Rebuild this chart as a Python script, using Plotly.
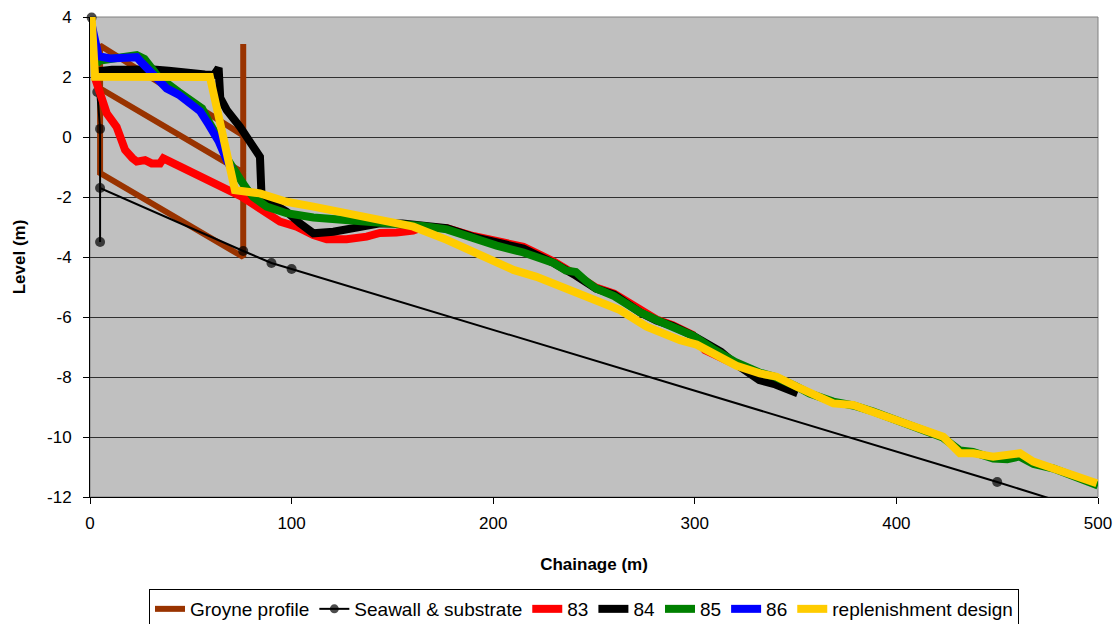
import plotly.graph_objects as go

# ---- data ----
groyne_x = [76, 76, 5, 5, 76, 76, 5.5]
groyne_y = [3.1, -4.0, -1.2, 3.05, 0.05, -1.19, 1.6]

seawall_x = [0.8, 3.6, 5, 5, 5, 76, 90, 100, 450, 500]
seawall_y = [3.98, 1.5, 0.27, -3.5, -1.7, -3.8, -4.2, -4.4, -11.5, -12.55]

s83_x = [2.5, 4, 5.5, 8.3, 13.2, 17.4, 21, 23.2, 27.3, 30.6, 34.7, 36.4, 39.7, 50, 60, 71, 75, 80,
         87.6, 94.2, 102.5, 110.8, 117.4, 127.3, 137.2, 143.8, 152, 160.3, 165, 177, 190, 201.7, 215,
         223, 230, 241, 251, 260, 273, 281, 289, 299, 305, 320, 335, 348]
s83_y = [1.97, 1.6, 1.3, 0.79, 0.34, -0.43, -0.7, -0.82, -0.77, -0.88, -0.88, -0.71, -0.82, -1.15, -1.47,
         -1.82, -1.98, -2.2, -2.54, -2.82, -2.99, -3.27, -3.41, -3.41, -3.32, -3.2, -3.18, -3.12, -3.0,
         -3.04, -3.3, -3.45, -3.66, -3.92, -4.15, -4.6, -5.02, -5.22, -5.8, -6.08, -6.27, -6.6, -7.1,
         -7.6, -8.05, -8.42]

s84_x = [4.3, 10.9, 20, 30, 39, 48, 57, 61.5, 63.8, 64.6, 67.8, 74.4, 80, 84.3, 85.1, 90.9, 97.5,
         104.2, 110.8, 120.7, 130.6, 143.8, 155, 165, 170.3, 177, 190, 201.7, 215, 223, 230, 241, 251,
         260, 273, 281, 289, 299, 313, 320, 332, 340, 351]
s84_y = [2.19, 2.24, 2.24, 2.26, 2.21, 2.12, 2.08, 2.07, 2.3, 1.3, 0.9, 0.34, -0.2, -0.66, -1.99, -2.21,
         -2.49, -2.88, -3.21, -3.16, -3.04, -2.88, -2.88, -2.95, -2.93, -3.04, -3.33, -3.5, -3.72, -3.98,
         -4.2, -4.62, -5.05, -5.25, -5.85, -6.12, -6.3, -6.62, -7.16, -7.55, -8.1, -8.25, -8.54]

s85_x = [3.3, 5, 10, 18, 23.2, 27, 34, 44, 50.6, 55.6, 59, 63.8, 67.8, 71, 74.4, 78, 81, 87.6, 97.5,
         110.8, 127.3, 143.8, 155, 165, 177, 190, 201.7, 215, 223, 230, 236, 241, 246, 251, 260, 273,
         281, 289, 299, 310, 320, 332, 340, 350, 357, 368.7, 378.6, 388.5, 395, 405, 418, 423, 431.5,
         438, 448, 455, 461, 468, 478, 488, 493, 500]
s85_y = [2.45, 2.55, 2.6, 2.65, 2.73, 2.6, 2.0, 1.5, 1.15, 0.95, 0.5, -0.05, -0.7, -1.1, -1.4, -1.75,
         -2.0, -2.32, -2.54, -2.68, -2.77, -2.82, -2.9, -2.97, -3.08, -3.4, -3.62, -3.85, -4.02, -4.2,
         -4.45, -4.5, -4.8, -5.05, -5.3, -5.85, -6.1, -6.3, -6.62, -7.1, -7.5, -7.85, -8.0, -8.3, -8.55,
         -8.82, -8.95, -9.15, -9.32, -9.6, -9.88, -10.02, -10.45, -10.5, -10.72, -10.74, -10.65, -10.9,
         -11.05, -11.3, -11.45, -11.62]

s86_x = [0, 4.3, 10, 20.8, 23.2, 25.8, 30, 34, 38, 44, 50.6, 54.6, 58.9, 63.8, 67.8, 70]
s86_y = [4, 2.69, 2.62, 2.63, 2.66, 2.47, 2.2, 1.86, 1.62, 1.41, 1.08, 0.86, 0.41, -0.14, -0.77, -1.05]

design_x = [0.8, 2.5, 59.5, 71.9, 84.3, 97.5, 110.8, 127.3, 143.8, 160.4, 177, 193.5, 210, 221.5, 233.1,
            249.6, 262.9, 276.1, 292.7, 300.9, 309.2, 320.7, 332.3, 340.6, 350.5, 357.1, 368.7, 378.6,
            388.5, 395.1, 405, 418.2, 423.2, 431.5, 438.1, 448, 454.7, 461.3, 467.9, 477.8, 487.8,
            492.8, 499.4]
design_y = [4, 2.01, 2.0, -1.77, -1.88, -2.16, -2.32, -2.54, -2.74, -2.99, -3.43, -3.93, -4.43, -4.66,
            -4.99, -5.43, -5.77, -6.32, -6.77, -6.92, -7.21, -7.63, -7.88, -7.99, -8.32, -8.54, -8.88,
            -8.93, -9.16, -9.32, -9.6, -9.88, -9.99, -10.54, -10.54, -10.66, -10.6, -10.54, -10.82,
            -11.04, -11.27, -11.43, -11.54]

x_ticks = [0, 100, 200, 300, 400, 500]
y_ticks = [4, 2, 0, -2, -4, -6, -8, -10, -12]
y_tick_text = ["4", "2", "0", "-2", "-4", "-6", "-8", "-10", "-12"]

FONT = "Liberation Sans, Arial, sans-serif"

fig = go.Figure()
fig.add_trace(go.Scatter(x=groyne_x, y=groyne_y, mode="lines", name="Groyne profile",
                         line=dict(color="#993300", width=6)))
sizes = [10] * (len(seawall_x) - 1) + [0]
fig.add_trace(go.Scatter(x=seawall_x, y=seawall_y, mode="lines+markers", name="Seawall & substrate",
                         line=dict(color="#000000", width=2),
                         marker=dict(color="#000000", size=sizes, line=dict(width=0)),
                         cliponaxis=False))
fig.add_trace(go.Scatter(x=s83_x, y=s83_y, mode="lines", name="83", line=dict(color="#FF0000", width=8)))
fig.add_trace(go.Scatter(x=s84_x, y=s84_y, mode="lines", name="84", line=dict(color="#000000", width=8)))
fig.add_trace(go.Scatter(x=s85_x, y=s85_y, mode="lines", name="85", line=dict(color="#008000", width=8)))
fig.add_trace(go.Scatter(x=s86_x, y=s86_y, mode="lines", name="86", line=dict(color="#0000FF", width=8)))
fig.add_trace(go.Scatter(x=design_x, y=design_y, mode="lines", name="replenishment design",
                         line=dict(color="#FFCC00", width=8)))

fig.update_layout(
    width=1119, height=624,
    margin=dict(l=90, r=21, t=17, b=127, autoexpand=False),
    paper_bgcolor="white", plot_bgcolor="#C0C0C0",
    font=dict(family=FONT, size=17, color="black"),
    showlegend=True,
    legend=dict(orientation="h", x=584 / 1119, xanchor="center", xref="container",
                y=1 - 589 / 624, yanchor="top", yref="container",
                bordercolor="black", borderwidth=1, bgcolor="white",
                font=dict(family=FONT, size=19), itemwidth=30, tracegroupgap=0),
    shapes=[dict(type="rect", xref="paper", yref="paper", x0=0, x1=1, y0=0, y1=1,
                 line=dict(color="#808080", width=1), layer="below")],
)
fig.update_xaxes(range=[0, 500], tickvals=x_ticks, ticks="outside", ticklen=6, tickcolor="black",
                 showgrid=False, zeroline=False, showline=True, linecolor="black", linewidth=1,
                 tickfont=dict(size=17), ticklabelstandoff=5, automargin=False,
                 title=dict(text="<b>Chainage (m)</b>", font=dict(size=17), standoff=25))
fig.update_yaxes(range=[-12, 4], tickvals=y_ticks, ticktext=y_tick_text, ticks="outside", ticklen=6,
                 tickcolor="black", showgrid=True, gridcolor="#303030", gridwidth=1, zeroline=False,
                 showline=True, linecolor="black", linewidth=1, automargin=False,
                 tickfont=dict(size=17), ticklabelstandoff=8,
                 title=dict(text="<b>Level (m)</b>", font=dict(size=17), standoff=17))

fig.write_html("out.html")
